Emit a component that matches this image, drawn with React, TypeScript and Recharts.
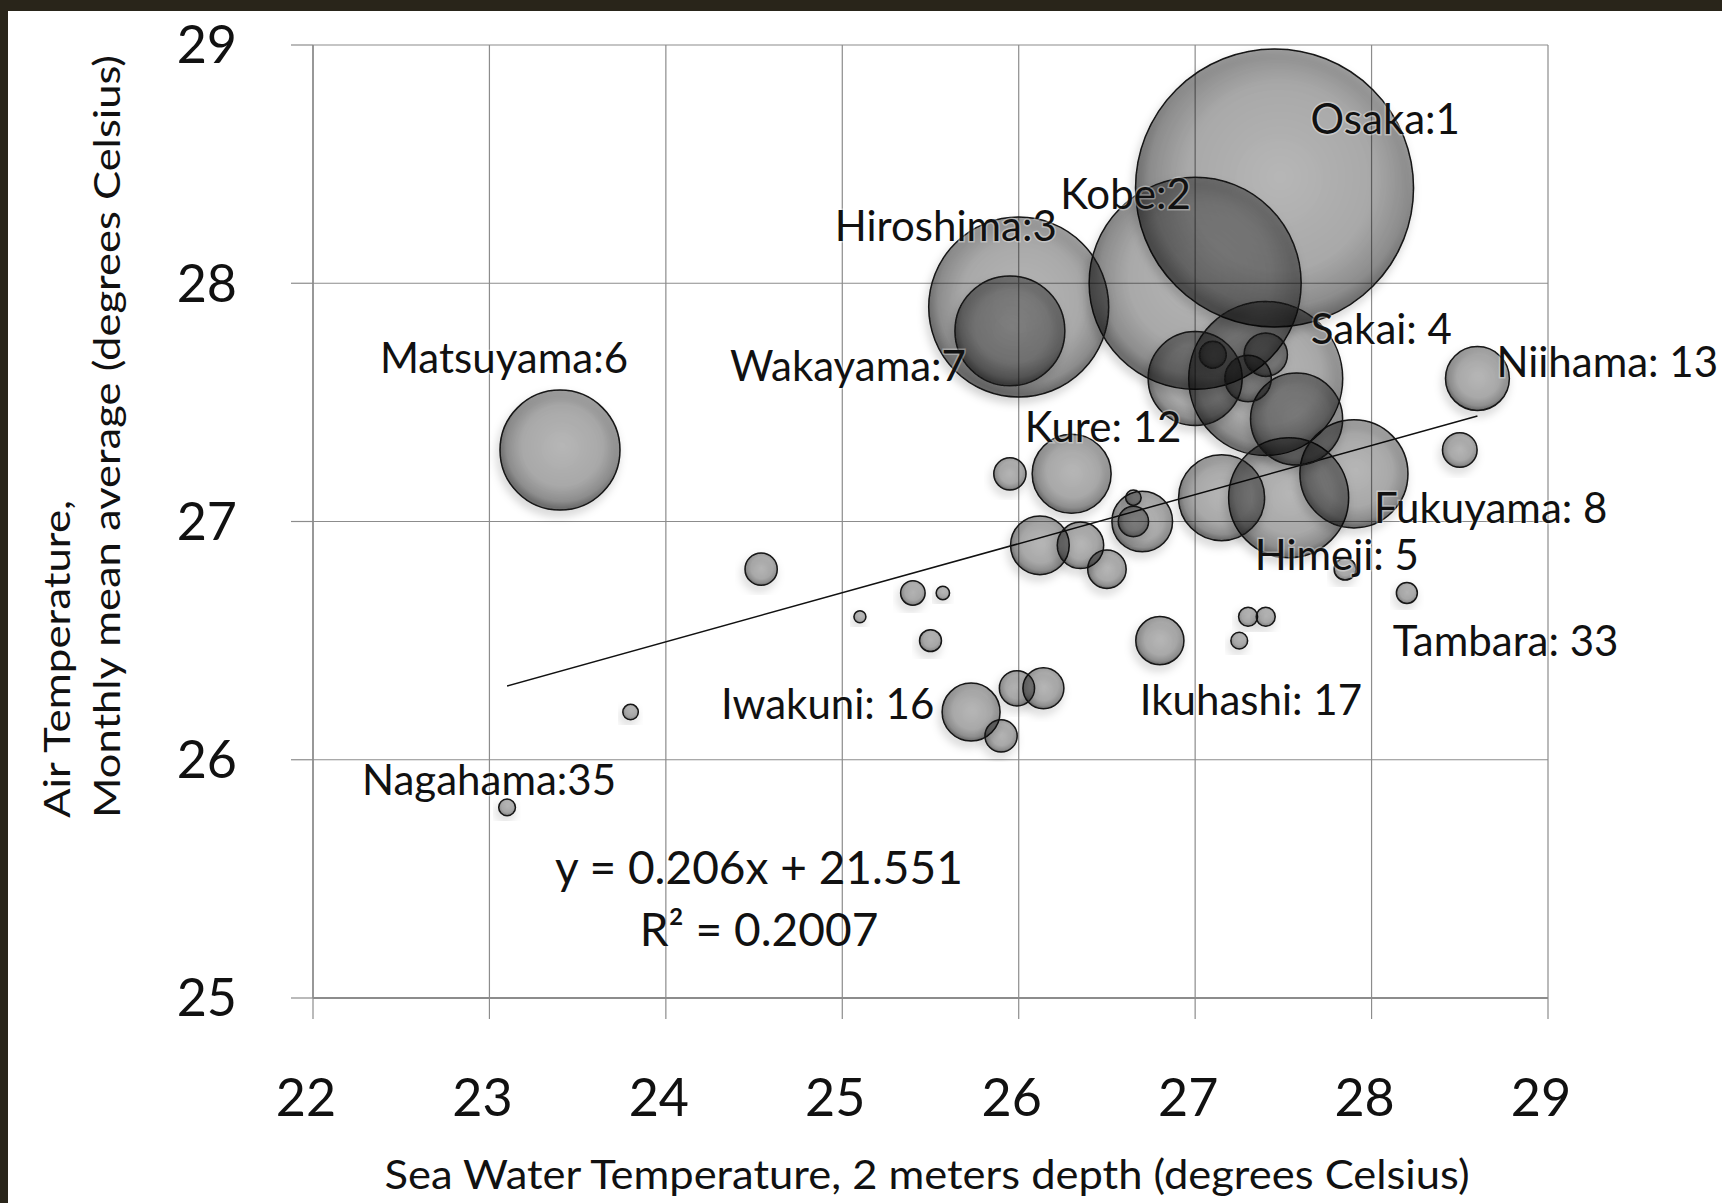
import React from 'react';
import { ScatterChart, Scatter, XAxis, YAxis, ZAxis, CartesianGrid, ReferenceLine } from 'recharts';

// ---------------- Data ----------------
const cityLabels = [
  'Osaka:1', 'Kobe:2', 'Hiroshima:3', 'Sakai: 4', 'Himeji: 5', 'Matsuyama:6', 'Wakayama:7', 'Fukuyama: 8',
  '', '', '', 'Kure: 12', 'Niihama: 13', '', '', 'Iwakuni: 16', 'Ikuhashi: 17', '', '', '', '', '', '', '',
  '', '', '', '', '', '', '', '', 'Tambara: 33', '', 'Nagahama:35', '', '', '', '', '', '',
];
const seaWaterTemp = [
  27.45, 27.0, 26.0, 27.4, 27.53, 23.4, 25.95, 27.9,
  27.0, 27.575, 27.15, 26.3, 28.6, 26.7, 26.12, 25.73, 26.8, 26.35, 27.3, 27.4, 26.14, 26.5, 25.99, 28.5,
  24.54, 25.95, 25.9, 26.65, 27.1, 25.4, 27.85, 25.5, 28.2, 27.3, 23.1, 27.4, 27.25, 26.65, 23.8, 25.57, 25.1,
];
const airTemp = [
  28.4, 28.0, 27.9, 27.6, 27.1, 27.3, 27.8, 27.2,
  27.6, 27.43, 27.1, 27.2, 27.6, 27.0, 26.9, 26.2, 26.5, 26.9, 27.6, 27.7, 26.3, 26.8, 26.3, 27.3,
  26.8, 27.2, 26.1, 27.0, 27.7, 26.7, 26.8, 26.5, 26.7, 26.6, 25.8, 26.6, 26.5, 27.1, 26.2, 26.7, 26.6,
];
const bubbleSize = [
  1932, 1124, 810, 593, 360, 360, 302, 292,
  221, 212, 185, 156, 102, 92, 86, 84, 58, 54, 54, 47, 42, 37, 31, 30,
  26, 26, 26, 23, 18, 15, 12, 12, 11, 9, 7, 9, 7, 6, 6, 4.5, 3.6,
];
const xTicks = [22, 23, 24, 25, 26, 27, 28, 29];
const yTicks = [25, 26, 27, 28, 29];
const trendSlope = 0.206;
const trendIntercept = 21.551;
const trendR2 = '0.2007';

const xTitle = 'Sea Water Temperature, 2 meters depth (degrees Celsius)';
const yTitleLine1 = 'Air Temperature,';
const yTitleLine2 = 'Monthly mean average (degrees Celsius)';

// ---------------- Styling / layout ----------------
const FONT = 'Lato, "Open Sans", sans-serif';
const GRID = '#8c8c8c';
const AREA_PER_UNIT = 10; // px^2 per size unit (bubble area scale)
const LABEL_OFFSETS: Record<string, { dx: number; dy: number }> = {
  'Osaka:1': { dx: 36, dy: -70 },
  'Kobe:2': { dx: -135, dy: -90 },
  'Hiroshima:3': { dx: -184, dy: -82 },
  'Sakai: 4': { dx: 45, dy: -51 },
  'Himeji: 5': { dx: -34, dy: 56 },
  'Matsuyama:6': { dx: -180, dy: -93 },
  'Wakayama:7': { dx: -280, dy: 34 },
  'Fukuyama: 8': { dx: 20, dy: 33 },
  'Kure: 12': { dx: -47, dy: -48 },
  'Niihama: 13': { dx: 19, dy: -18 },
  'Iwakuni: 16': { dx: -250, dy: -9 },
  'Ikuhashi: 17': { dx: -20, dy: 58 },
  'Tambara: 33': { dx: -14, dy: 47 },
  'Nagahama:35': { dx: -145, dy: -28 },
};

const bubbles = seaWaterTemp.map((x, i) => ({ x, y: airTemp[i], z: bubbleSize[i], label: cityLabels[i] }));
const labelled = bubbles.filter((b) => b.label !== '');
const maxSize = Math.max(...bubbleSize);
const trendX0 = Math.min(...seaWaterTemp);
const trendX1 = Math.max(...seaWaterTemp);

const renderBubble = (props: any) => {
  const { cx, cy, size } = props;
  if (!Number.isFinite(cx) || !Number.isFinite(cy)) return <g />;
  const r = Math.sqrt(Math.max(size, 0) / Math.PI);
  return (
    <circle
      cx={cx}
      cy={cy}
      r={r}
      fill="url(#bubbleFill)"
      stroke="#141414"
      strokeWidth={1.5}
      filter="url(#bubbleShadow)"
    />
  );
};

const renderLabel = (props: any) => {
  const { cx, cy, payload } = props;
  if (!Number.isFinite(cx) || !Number.isFinite(cy)) return <g />;
  const off = LABEL_OFFSETS[payload.label] ?? { dx: 0, dy: 0 };
  return (
    <text
      x={cx + off.dx}
      y={cy + off.dy}
      dominantBaseline="central"
      fontFamily={FONT}
      fontSize={42}
      fill="#111"
      stroke="#fff"
      strokeWidth={3}
      strokeOpacity={0.35}
      paintOrder="stroke"
    >
      {payload.label}
    </text>
  );
};

export default function App() {
  return (
    <div style={{ position: 'absolute', left: 0, top: 0, width: 1722, height: 1203, background: '#fff', overflow: 'hidden' }}>
      <svg width={0} height={0} style={{ position: 'absolute' }}>
        <defs>
          <radialGradient id="bubbleFill" cx="52%" cy="46%" r="52%">
            <stop offset="0%" stopColor="#000" stopOpacity={0.23} />
            <stop offset="65%" stopColor="#000" stopOpacity={0.28} />
            <stop offset="90%" stopColor="#000" stopOpacity={0.38} />
            <stop offset="100%" stopColor="#000" stopOpacity={0.5} />
          </radialGradient>
          <filter id="bubbleShadow" x="-30%" y="-30%" width="160%" height="160%">
            <feDropShadow dx={-2} dy={5} stdDeviation={4} floodColor="#000" floodOpacity={0.3} />
          </filter>
        </defs>
      </svg>
      <ScatterChart width={1722} height={1203} margin={{ top: 45, right: 174, bottom: 105, left: 213 }}>
        <CartesianGrid stroke={GRID} strokeWidth={1.2} />
        <XAxis
          type="number"
          dataKey="x"
          domain={[22, 29]}
          ticks={xTicks}
          interval={0}
          height={100}
          tickSize={21}
          tickMargin={60}
          axisLine={{ stroke: GRID, strokeWidth: 2 }}
          tickLine={{ stroke: GRID, strokeWidth: 1.2 }}
          tick={{ fontSize: 52, fill: '#111', fontFamily: FONT, dx: -7 }}
        />
        <YAxis
          type="number"
          dataKey="y"
          domain={[25, 29]}
          ticks={yTicks}
          interval={0}
          width={100}
          tickSize={22}
          tickMargin={54}
          axisLine={{ stroke: GRID, strokeWidth: 1.5 }}
          tickLine={{ stroke: GRID, strokeWidth: 1.2 }}
          tick={{ fontSize: 52, fill: '#111', fontFamily: FONT }}
        />
        <ZAxis type="number" dataKey="z" domain={[0, maxSize]} range={[0, Math.PI * AREA_PER_UNIT * maxSize]} />
        <Scatter data={bubbles} shape={renderBubble} isAnimationActive={false} />
        <ReferenceLine
          segment={[
            { x: trendX0, y: trendSlope * trendX0 + trendIntercept },
            { x: trendX1, y: trendSlope * trendX1 + trendIntercept },
          ]}
          stroke="#111"
          strokeWidth={1.5}
          ifOverflow="visible"
        />
        <Scatter data={labelled} shape={renderLabel} isAnimationActive={false} />
      </ScatterChart>
      <svg width={1722} height={1203} style={{ position: 'absolute', left: 0, top: 0, pointerEvents: 'none' }}>
        <text x={927} y={1189} textAnchor="middle" fontFamily={FONT} fontSize={41} fill="#111" textLength={1085} lengthAdjust="spacingAndGlyphs">
          {xTitle}
        </text>
        <text transform="translate(70,818) rotate(-90)" textAnchor="start" fontFamily={FONT} fontSize={37} fill="#111" textLength={318} lengthAdjust="spacingAndGlyphs">
          {yTitleLine1}
        </text>
        <text transform="translate(120,818) rotate(-90)" textAnchor="start" fontFamily={FONT} fontSize={37} fill="#111" textLength={763} lengthAdjust="spacingAndGlyphs">
          {yTitleLine2}
        </text>
        <text x={759} y={884} textAnchor="middle" fontFamily={FONT} fontSize={46} fill="#111">
          {`y = ${trendSlope}x + ${trendIntercept}`}
        </text>
        <text x={759} y={946} textAnchor="middle" fontFamily={FONT} fontSize={46} fill="#111">
          {`R² = ${trendR2}`}
        </text>
      </svg>
      <div style={{ position: 'absolute', left: 0, top: 0, width: 1722, height: 11, background: '#29251a' }} />
      <div style={{ position: 'absolute', left: 0, top: 0, width: 8, height: 1203, background: '#29251a' }} />
    </div>
  );
}
